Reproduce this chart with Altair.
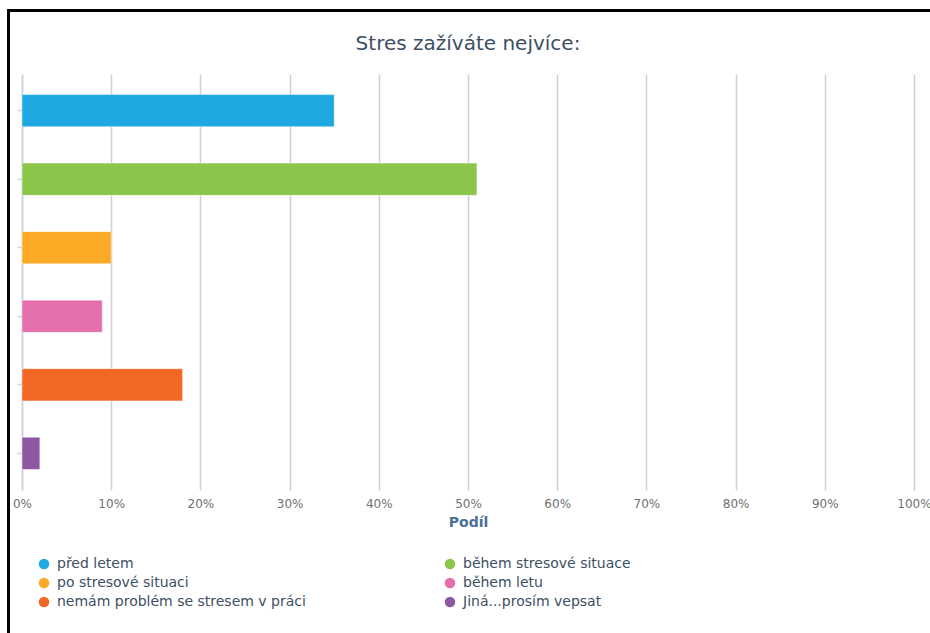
import altair as alt
import pandas as pd

# Survey answers and their share of respondents (%)
categories = [
    "před letem",
    "během stresové situace",
    "po stresové situaci",
    "během letu",
    "nemám problém se stresem v práci",
    "Jiná...prosím vepsat",
]
shares = [35, 51, 10, 9, 18, 2]
colors = ["#1ea9e1", "#8bc54a", "#fbaa26", "#e56fab", "#f26724", "#8e57a2"]
x_ticks = [0, 10, 20, 30, 40, 50, 60, 70, 80, 90, 100]

df = pd.DataFrame({"odpoved": categories, "podil": shares})

# The legend fills its two columns top-down, so list the answers column by
# column to read them row by row (1st and 2nd answer on the first row, ...)
legend_order = categories[0::2] + categories[1::2]
legend_colors = colors[0::2] + colors[1::2]

FONT = "DejaVu Sans"
TEXT = "#3d4f63"

bars = alt.Chart(df).mark_bar(stroke="#ffffff", strokeOpacity=0.45, strokeWidth=1).encode(
    x=alt.X(
        "podil:Q",
        scale=alt.Scale(domain=[0, 100], nice=False),
        axis=alt.Axis(
            title="Podíl",
            values=x_ticks,
            labelExpr="datum.value + '%'",
            labelFlush=False,
            grid=True,
            gridColor="#d0d0d0",
            gridWidth=1.5,
            domain=False,
            ticks=False,
            labelPadding=8,
            labelColor="#707070",
            labelFontSize=12,
            labelFont=FONT,
            titleFont=FONT,
            titleFontSize=14,
            titleFontWeight="bold",
            titleColor="#4a6f9a",
            titlePadding=6,
        ),
    ),
    y=alt.Y(
        "odpoved:N",
        sort=categories,
        scale=alt.Scale(paddingInner=0.53, paddingOuter=0.3),
        axis=alt.Axis(
            title=None,
            labels=False,
            grid=False,
            domainColor="#c5d3e3",
            domainWidth=1.5,
            tickColor="#c5d3e3",
            tickSize=5,
            tickWidth=1.5,
        ),
    ),
    color=alt.Color(
        "odpoved:N",
        scale=alt.Scale(domain=legend_order, range=legend_colors),
        legend=alt.Legend(
            title=None,
            orient="none",
            legendX=15,
            legendY=483,
            columns=2,
            columnPadding=137,
            symbolType="circle",
            symbolSize=110,
            symbolStrokeWidth=0,
            labelFont=FONT,
            labelFontSize=14,
            labelColor=TEXT,
            labelLimit=400,
            rowPadding=5,
            labelOffset=6,
        ),
    ),
)

# Black frame lines along the top and left edge of the page
frame_top = alt.Chart(df).mark_rule(color="#000000", strokeWidth=3).encode(
    x=alt.value(-14), x2=alt.value(920), y=alt.value(-63.5)
)
frame_left = alt.Chart(df).mark_rule(color="#000000", strokeWidth=3).encode(
    x=alt.value(-13.5), y=alt.value(-65), y2=alt.value(570)
)

chart = (
    alt.layer(bars, frame_top, frame_left)
    .properties(
        width=892,
        height=416,
        autosize=alt.AutoSizeParams(type="none"),
        padding={"left": 22, "top": 74, "right": 16, "bottom": 143},
        title=alt.TitleParams(
            "Stres zažíváte nejvíce:",
            font=FONT,
            fontSize=20,
            fontWeight="normal",
            color=TEXT,
            anchor="middle",
            frame="group",
            offset=0,
            dy=46,
        ),
    )
    .configure_view(stroke=None)
)

chart.save("out.html", embed_options={"renderer": "svg", "actions": False})
